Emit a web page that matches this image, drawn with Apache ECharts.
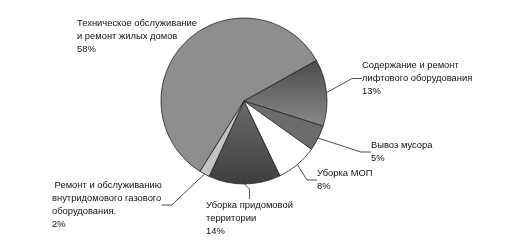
<!DOCTYPE html>
<html>
<head>
<meta charset="utf-8">
<script src="https://cdn.jsdelivr.net/npm/echarts@6/dist/echarts.min.js"></script>
<style>html,body{margin:0;padding:0;background:#fff;}#c{width:505px;height:252px;}</style>
</head>
<body>
<div id="c"></div>
<script>
const categories = [
  'Техническое обслуживание\nи ремонт жилых домов',
  'Содержание и ремонт\nлифтового оборудования',
  'Вывоз мусора',
  'Уборка МОП',
  'Уборка придомовой\nтерритории',
  ' Ремонт и обслуживанию\nвнутридомового газового\nоборудования.'
];
const values = [58, 13, 5, 8, 14, 2];

const colors = ['#8e8e8e', '#686868', '#6c6c6c', '#ffffff', '#555555', '#c4c4c4'];
const labelPos = [[77, 17], [362, 59], [371, 139], [317, 167], [206, 199], [52, 179]];

function grad(top, bottom) {
  return new echarts.graphic.LinearGradient(0, 0, 0, 1, [
    {offset: 0, color: top}, {offset: 1, color: bottom}
  ]);
}

const chart = echarts.init(document.getElementById('c'), null, {renderer: 'canvas'});
chart.setOption({
  backgroundColor: '#ffffff',
  animation: false,
  series: [{
    type: 'pie',
    center: [244, 101],
    radius: 83,
    startAngle: 238,
    clockwise: true,
    avoidLabelOverlap: false,
    itemStyle: {borderColor: '#222', borderWidth: 0.8},
    label: {
      show: true,
      formatter: p => p.name + '\n' + p.value + '%',
      fontFamily: 'Liberation Sans, Arial, sans-serif',
      fontSize: 9.4,
      lineHeight: 13,
      color: '#111',
      align: 'left'
    },
    labelLine: {show: true, length: 10, length2: 10, lineStyle: {color: '#222', width: 0.8}},
    labelLayout: function (params) {
      const pos = labelPos[params.dataIndex];
      return {x: pos[0], y: pos[1], align: 'left', verticalAlign: 'top'};
    },
    data: categories.map((c, i) => ({
      name: c,
      value: values[i],
      itemStyle: {color: i === 1 ? grad('#4a4a4a', '#8a8a8a') : (i === 4 ? grad('#6a6a6a', '#3e3e3e') : colors[i])},
      labelLine: i === 0 ? {show: false} : undefined
    }))
  }]
});
</script>
</body>
</html>
